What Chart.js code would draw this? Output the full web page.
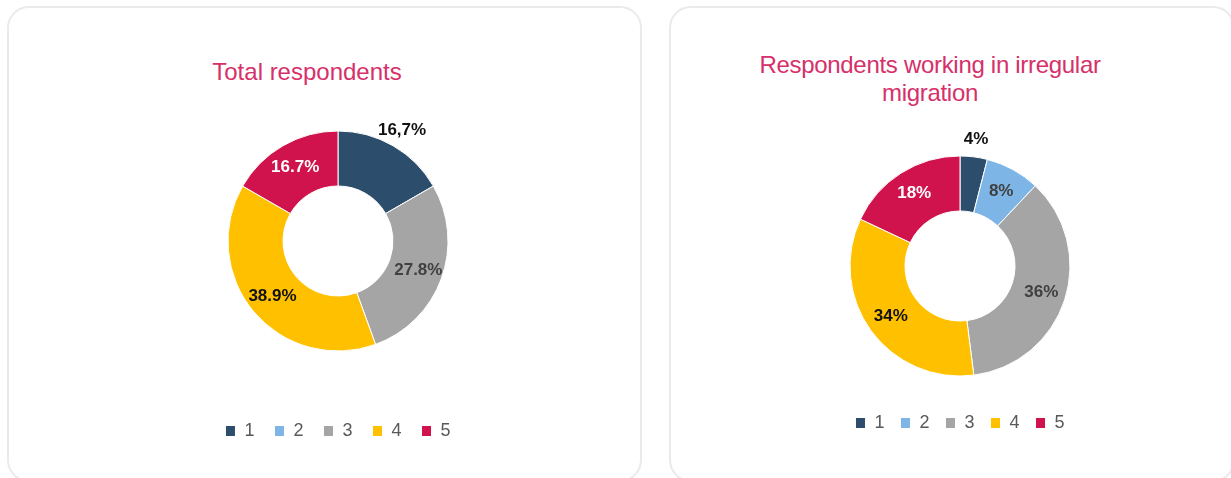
<!DOCTYPE html>
<html>
<head>
<meta charset="utf-8">
<script src="https://cdn.jsdelivr.net/npm/chart.js@4"></script>
<style>
  html, body { margin: 0; padding: 0; background: #ffffff; }
  body { width: 1231px; height: 478px; position: relative; overflow: hidden; font-family: "Liberation Sans", Arial, sans-serif; }
  .card { position: absolute; box-sizing: border-box; border: 2px solid #EAEAEA; border-radius: 22px; background: #fff; }
  .title { position: absolute; color: #D6306A; font-size: 24px; line-height: 28px; text-align: center; white-space: nowrap; transform: translateX(-50%); }
  .cv { position: absolute; }
</style>
</head>
<body>
<div class="card" style="left:7px; top:6px; width:635px; height:476px;"></div>
<div class="card" style="left:669px; top:6px; width:566px; height:476px;"></div>

<div class="title" id="t1" style="left:307px; top:58px;"></div>
<div class="title" id="t2" style="left:930px; top:51px; letter-spacing:-0.3px;"></div>

<div class="cv" style="left:138px; top:80px; width:400px; height:370px;"><canvas id="c1"></canvas></div>
<div class="cv" style="left:800px; top:100px; width:320px; height:342px;"><canvas id="c2"></canvas></div>

<script>
// ---- data ----
const categories = ["1", "2", "3", "4", "5"];
const colors = ["#2C4D6B", "#7DB5E6", "#A5A5A5", "#FFC000", "#D0134D"];

const title1 = "Total respondents";
const values1 = [16.7, 0, 27.8, 38.9, 16.7];
const labels1 = ["16,7%", "", "27.8%", "38.9%", "16.7%"];
const labelColors1 = ["#111111", "#111111", "#404040", "#111111", "#FFFFFF"];
const labelPlace1 = ["out", "in", "in", "in", "in"];

const title2 = ["Respondents working in irregular", "migration"];
const values2 = [4, 8, 36, 34, 18];
const labels2 = ["4%", "8%", "36%", "34%", "18%"];
const labelColors2 = ["#111111", "#404040", "#404040", "#111111", "#FFFFFF"];
const labelPlace2 = ["out", "in", "in", "in", "in"];

document.getElementById('t1').textContent = title1;
document.getElementById('t2').innerHTML = title2.join('<br>');

const FONT = '"Liberation Sans", Arial, sans-serif';

const sliceLabels = {
  id: 'sliceLabels',
  afterDatasetsDraw(chart, args, opts) {
    const ctx = chart.ctx;
    const meta = chart.getDatasetMeta(0);
    ctx.save();
    ctx.font = 'bold 17px ' + FONT;
    ctx.textAlign = 'center';
    ctx.textBaseline = 'middle';
    meta.data.forEach((arc, i) => {
      const txt = opts.texts[i];
      if (!txt) return;
      const p = arc.getProps(['x', 'y', 'startAngle', 'endAngle', 'innerRadius', 'outerRadius'], true);
      const mid = (p.startAngle + p.endAngle) / 2;
      const r = opts.places[i] === 'out' ? p.outerRadius + 18 : (p.innerRadius + p.outerRadius) / 2 + 3;
      ctx.fillStyle = opts.colors[i];
      ctx.fillText(txt, p.x + Math.cos(mid) * r, p.y + Math.sin(mid) * r);
    });
    ctx.restore();
  }
};

function makeChart(id, values, texts, lColors, places, padTop, legendPad) {
  return new Chart(document.getElementById(id), {
    type: 'doughnut',
    data: {
      labels: categories,
      datasets: [{
        data: values,
        backgroundColor: colors,
        borderColor: '#ffffff',
        borderWidth: 1,
        radius: 110,
        cutout: '50%'
      }]
    },
    options: {
      responsive: true,
      maintainAspectRatio: false,
      animation: false,
      layout: { padding: { top: padTop, bottom: 0, left: 0, right: 0 } },
      plugins: {
        tooltip: { enabled: false },
        title: { display: false },
        legend: {
          display: true,
          position: 'bottom',
          labels: {
            boxWidth: 10,
            boxHeight: 11,
            padding: legendPad,
            color: '#595959',
            font: { family: FONT, size: 18 }
          }
        },
        sliceLabels: { texts: texts, colors: lColors, places: places }
      }
    },
    plugins: [sliceLabels]
  });
}

makeChart('c1', values1, labels1, labelColors1, labelPlace1, 0, 20);
makeChart('c2', values2, labels2, labelColors2, labelPlace2, 34, 16);
</script>
</body>
</html>
